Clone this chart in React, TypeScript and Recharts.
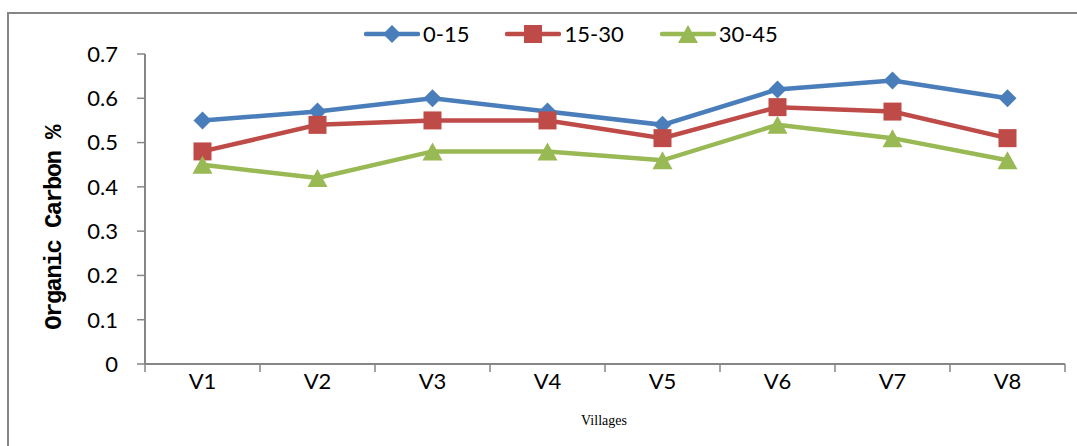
import React from 'react';
import { LineChart, Line, XAxis, YAxis } from 'recharts';

const VILLAGES = ['V1', 'V2', 'V3', 'V4', 'V5', 'V6', 'V7', 'V8'];
const DEPTH_0_15 = [0.55, 0.57, 0.6, 0.57, 0.54, 0.62, 0.64, 0.6];
const DEPTH_15_30 = [0.48, 0.54, 0.55, 0.55, 0.51, 0.58, 0.57, 0.51];
const DEPTH_30_45 = [0.45, 0.42, 0.48, 0.48, 0.46, 0.54, 0.51, 0.46];
const Y_TICKS = [0, 0.1, 0.2, 0.3, 0.4, 0.5, 0.6, 0.7];

const W = 1077;
const H = 446;
const MARGIN = { top: 54, right: 12, bottom: 52, left: 85 };
const Y_AXIS_W = 60;
const X_AXIS_H = 30;
const AXIS_GREY = '#868686';
const FONT = 'Lato, "Open Sans", sans-serif';

// half the distance between two villages, used for the padding and the boundary ticks
const STEP = (W - MARGIN.left - MARGIN.right - Y_AXIS_W) / VILLAGES.length;
const HALF = STEP / 2;

const data = VILLAGES.map((v, i) => ({
  village: v,
  d0: DEPTH_0_15[i],
  d15: DEPTH_15_30[i],
  d30: DEPTH_30_45[i],
}));

type Shape = 'diamond' | 'square' | 'triangle';

const SERIES: { key: string; name: string; color: string; shape: Shape }[] = [
  { key: 'd0', name: '0-15', color: '#4A7EBB', shape: 'diamond' },
  { key: 'd15', name: '15-30', color: '#BE4B48', shape: 'square' },
  { key: 'd30', name: '30-45', color: '#98B954', shape: 'triangle' },
];

function Marker({ cx, cy, color, shape }: { cx: number; cy: number; color: string; shape: Shape }) {
  if (cx == null || cy == null) return null;
  if (shape === 'diamond') {
    return <path d={`M${cx},${cy - 9}L${cx + 9},${cy}L${cx},${cy + 9}L${cx - 9},${cy}Z`} fill={color} />;
  }
  if (shape === 'square') {
    return <rect x={cx - 9} y={cy - 9} width={18} height={18} fill={color} />;
  }
  return <path d={`M${cx},${cy - 9}L${cx + 10},${cy + 9}L${cx - 10},${cy + 9}Z`} fill={color} />;
}

const TICK_SIZE = 8;
const TICK_MARGIN = 1;

// category label plus the small ticks that sit between villages
function VillageTick(props: any) {
  const { x, y, payload, index } = props;
  const axisY = y - TICK_SIZE - TICK_MARGIN;
  return (
    <g>
      <line x1={x - HALF} x2={x - HALF} y1={axisY} y2={axisY + TICK_SIZE} stroke={AXIS_GREY} strokeWidth={1.5} />
      {index === VILLAGES.length - 1 && (
        <line x1={x + HALF} x2={x + HALF} y1={axisY} y2={axisY + TICK_SIZE} stroke={AXIS_GREY} strokeWidth={1.5} />
      )}
      <text x={x} y={y} dy="0.71em" textAnchor="middle" fill="#000" fontSize={22} fontFamily={FONT}>
        {payload.value}
      </text>
    </g>
  );
}

function LegendRow() {
  return (
    <div
      style={{
        position: 'absolute',
        left: 364,
        top: 22,
        display: 'flex',
        alignItems: 'center',
        fontFamily: FONT,
        fontSize: 22,
        lineHeight: '24px',
      }}
    >
      {SERIES.map((s, i) => (
        <div key={s.key} style={{ display: 'flex', alignItems: 'center', marginLeft: i === 0 ? 0 : 36 }}>
          <svg width={56} height={24}>
            <line x1={2} x2={54} y1={12} y2={12} stroke={s.color} strokeWidth={4.5} strokeLinecap="round" />
            <Marker cx={28} cy={12} color={s.color} shape={s.shape} />
          </svg>
          <span style={{ marginLeft: 3 }}>{s.name}</span>
        </div>
      ))}
    </div>
  );
}

export default function App() {
  return (
    <div style={{ position: 'absolute', left: 0, top: 0, width: W, height: H, overflow: 'hidden', background: '#fff' }}>
      <div
        style={{
          position: 'absolute',
          left: 7,
          top: 12,
          width: W + 20,
          height: H + 20,
          border: `2px solid ${AXIS_GREY}`,
          boxSizing: 'border-box',
        }}
      />
      <LineChart width={W} height={H} data={data} margin={MARGIN} style={{ position: 'absolute', left: 0, top: 0 }}>
        <XAxis
          dataKey="village"
          height={X_AXIS_H}
          padding={{ left: HALF, right: HALF }}
          axisLine={{ stroke: AXIS_GREY, strokeWidth: 2 }}
          tickLine={false}
          tickSize={TICK_SIZE}
          tickMargin={TICK_MARGIN}
          tick={<VillageTick />}
          interval={0}
        />
        <YAxis
          width={Y_AXIS_W}
          domain={[0, 0.7]}
          ticks={Y_TICKS}
          interval={0}
          axisLine={{ stroke: AXIS_GREY, strokeWidth: 2 }}
          tickLine={{ stroke: AXIS_GREY, strokeWidth: 1.5 }}
          tickSize={TICK_SIZE}
          tickMargin={19}
          tick={{ fill: '#000', fontSize: 22, fontFamily: FONT }}
        />
        {SERIES.map((s) => (
          <Line
            key={s.key}
            dataKey={s.key}
            name={s.name}
            type="linear"
            stroke={s.color}
            strokeWidth={4.5}
            isAnimationActive={false}
            dot={(p: any) => <Marker key={`${s.key}-${p.index}`} cx={p.cx} cy={p.cy} color={s.color} shape={s.shape} />}
            activeDot={false}
          />
        ))}
      </LineChart>
      <LegendRow />
      <div
        style={{
          position: 'absolute',
          left: 54,
          top: 228,
          transform: 'translate(-50%, -50%) rotate(-90deg)',
          whiteSpace: 'nowrap',
          fontFamily: '"Liberation Mono", "DejaVu Sans Mono", monospace',
          fontWeight: 'bold',
          fontSize: 24,
          letterSpacing: -1.7,
          color: '#000',
        }}
      >
        Organic Carbon %
      </div>
      <div
        style={{
          position: 'absolute',
          left: 604,
          top: 421,
          transform: 'translate(-50%, -50%)',
          whiteSpace: 'nowrap',
          fontFamily: '"Liberation Serif", serif',
          fontSize: 14,
          color: '#000',
        }}
      >
        Villages
      </div>
    </div>
  );
}
